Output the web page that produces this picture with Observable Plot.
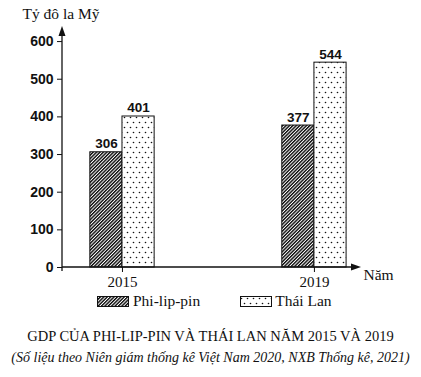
<!DOCTYPE html>
<html>
<head>
<meta charset="utf-8">
<script src="https://cdn.jsdelivr.net/npm/d3@7"></script>
<script src="https://cdn.jsdelivr.net/npm/@observablehq/plot@0.6"></script>
<style>
  html, body { margin: 0; padding: 0; background: #fff; }
  body { width: 421px; height: 377px; overflow: hidden; }
  .serif, .serif span { font-family: "Liberation Serif", "Times New Roman", serif; color: #111; }
  #legend { display: flex; align-items: center; height: 22px; padding-left: 97px; font-size: 15.5px; }
  #legend .item { display: flex; align-items: center; }
  #legend svg { display: block; }
  #title { text-align: center; font-size: 14.5px; line-height: 18px; margin-top: 15px; }
  #subtitle { text-align: center; font-size: 14px; line-height: 16px; margin-top: 5px; font-style: italic; white-space: nowrap; }
</style>
</head>
<body>
<svg width="0" height="0" style="position:absolute">
  <defs>
    <pattern id="hatch" patternUnits="userSpaceOnUse" width="2.4" height="2.4" patternTransform="rotate(45)">
      <rect width="2.4" height="2.4" fill="#fff"/>
      <line x1="0.7" y1="0" x2="0.7" y2="2.4" stroke="#000" stroke-width="1.35"/>
    </pattern>
    <pattern id="dots" patternUnits="userSpaceOnUse" width="6" height="10">
      <rect width="6" height="10" fill="#fff"/>
      <circle cx="1.5" cy="2.5" r="0.8" fill="#111"/>
      <circle cx="4.5" cy="7.5" r="0.8" fill="#111"/>
    </pattern>
  </defs>
</svg>
<div id="chart"></div>
<div id="legend" class="serif"></div>
<div id="title" class="serif"></div>
<div id="subtitle" class="serif"></div>
<script>
// ---- data ----
const years = [2015, 2019];
const seriesNames = ["Phi-lip-pin", "Thái Lan"];
const philippines = [306, 377];
const thailand = [401, 544];
const yTicks = [0, 100, 200, 300, 400, 500, 600];
const yLabel = "Tỷ đô la Mỹ";
const xLabel = "Năm";
const titleText = "GDP CỦA PHI-LIP-PIN VÀ THÁI LAN NĂM 2015 VÀ 2019";
const subtitleText = "(Số liệu theo Niên giám thống kê Việt Nam 2020, NXB Thống kê, 2021)";

// ---- build ----
const serif = "Liberation Serif, Times New Roman, serif";
const sans = "Liberation Sans, Arial, sans-serif";
const barW = 0.67; // bar width in year units
const phData = years.map((yr, i) => ({year: yr, value: philippines[i]}));
const thData = years.map((yr, i) => ({year: yr, value: thailand[i]}));

const chart = Plot.plot({
  width: 421,
  height: 290,
  marginLeft: 62,
  marginRight: 61,
  marginTop: 26,
  marginBottom: 23,
  style: {background: "transparent", color: "#111", fontFamily: serif},
  x: {type: "linear", domain: [2013.75, 2019.96]},
  y: {domain: [0, 640]},
  marks: [
    Plot.rectY(phData, {x1: d => d.year - barW, x2: d => d.year, y1: 0, y2: "value",
      fill: "url(#hatch)", stroke: "#111", strokeWidth: 1}),
    Plot.rectY(thData, {x1: d => d.year, x2: d => d.year + barW, y1: 0, y2: "value",
      fill: "url(#dots)", stroke: "#111", strokeWidth: 1}),
    Plot.text(phData, {x: d => d.year - barW / 2, y: "value", text: d => String(d.value),
      lineAnchor: "bottom", dy: -4, fontSize: 13.5, fontWeight: "bold", fontFamily: sans, fill: "#111"}),
    Plot.text(thData, {x: d => d.year + barW / 2, y: "value", text: d => String(d.value),
      lineAnchor: "bottom", dy: -4, fontSize: 13.5, fontWeight: "bold", fontFamily: sans, fill: "#111"}),
    Plot.axisY({ticks: yTicks, tickSize: 5, tickPadding: 4, label: null,
      fontSize: 14, fontWeight: "bold", fontFamily: sans, stroke: "#111"}),
    Plot.axisX({ticks: years, tickFormat: d => String(d), tickSize: 5, tickPadding: 4, label: null,
      fontSize: 15, fontFamily: serif, stroke: "#111"}),
    Plot.text([yLabel], {frameAnchor: "top-left", text: d => d, textAnchor: "start",
      lineAnchor: "middle", dx: -40, dy: -12, fontSize: 15.5, fontFamily: serif, fill: "#111"}),
    Plot.text([xLabel], {frameAnchor: "bottom-right", text: d => d, textAnchor: "start",
      lineAnchor: "middle", dx: 3, dy: 8, fontSize: 15.5, fontFamily: serif, fill: "#111"})
  ]
});

// axis lines with filled arrowheads, from the scales
const xs = chart.scale("x"), ys = chart.scale("y");
const xl = xs.apply(xs.domain[0]), xr = xs.apply(xs.domain[1]);
const yb = ys.apply(0), yt = ys.apply(ys.domain[1]);
const g = d3.select(chart).append("g");
g.append("path").attr("d", `M${xl},${yb + 4}V${yt + 8}`).attr("stroke", "#111").attr("stroke-width", 1.3).attr("fill", "none");
g.append("path").attr("d", `M${xl},${yt}L${xl - 3.5},${yt + 10}L${xl + 3.5},${yt + 10}Z`).attr("fill", "#111");
g.append("path").attr("d", `M${xl},${yb}H${xr - 8}`).attr("stroke", "#111").attr("stroke-width", 1.3).attr("fill", "none");
g.append("path").attr("d", `M${xr + 1},${yb}L${xr - 9},${yb - 3.5}L${xr - 9},${yb + 3.5}Z`).attr("fill", "#111");

document.getElementById("chart").append(chart);

// legend
const legend = d3.select("#legend");
const fills = ["url(#hatch)", "url(#dots)"];
const gaps = [4, 3];
seriesNames.forEach((name, i) => {
  const item = legend.append("div").attr("class", "item").style("margin-left", i ? "40px" : "0px");
  const s = item.append("svg").attr("width", 32).attr("height", 11);
  s.append("rect").attr("x", 0.5).attr("y", 0.5).attr("width", 31).attr("height", 10)
    .attr("fill", fills[i]).attr("stroke", "#111").attr("stroke-width", 1);
  item.append("span").style("margin-left", gaps[i] + "px")
    .style("font-family", '"Liberation Serif", "Times New Roman", serif').text(name);
});
document.getElementById("title").textContent = titleText;
document.getElementById("subtitle").textContent = subtitleText;
</script>
</body>
</html>
